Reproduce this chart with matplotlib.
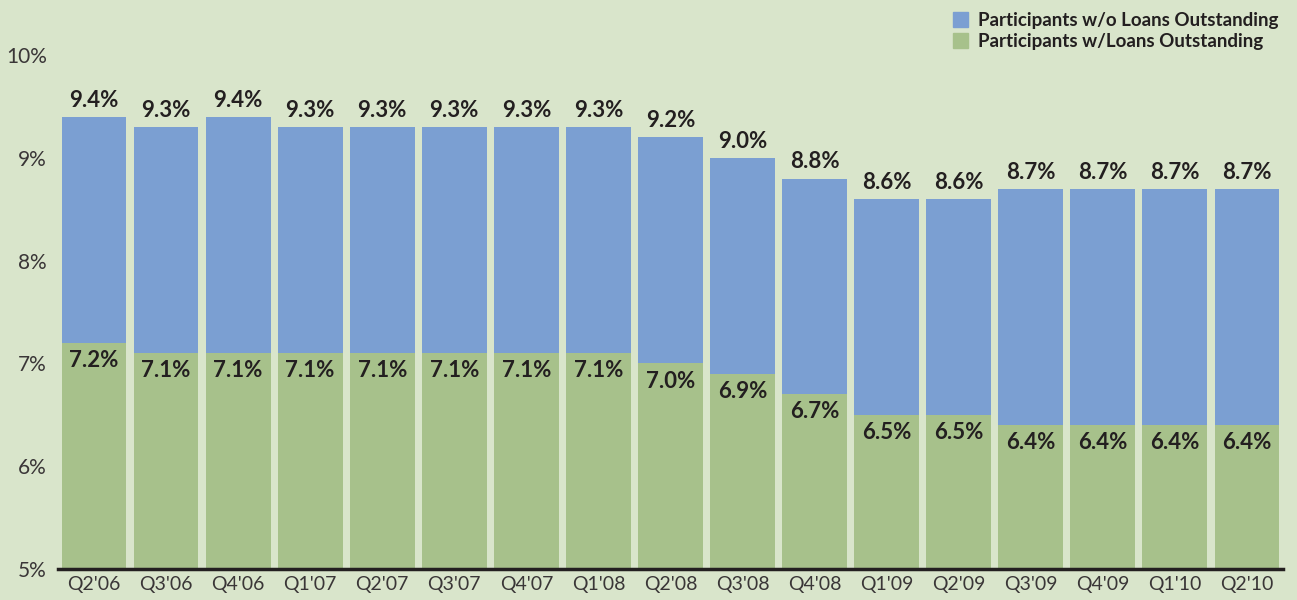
import matplotlib
matplotlib.use('Agg')
from matplotlib import pyplot as plt
from matplotlib.patches import Patch

quarters = ["Q2'06", "Q3'06", "Q4'06", "Q1'07", "Q2'07", "Q3'07", "Q4'07", "Q1'08", "Q2'08",
            "Q3'08", "Q4'08", "Q1'09", "Q2'09", "Q3'09", "Q4'09", "Q1'10", "Q2'10"]
total_pct = [9.4, 9.3, 9.4, 9.3, 9.3, 9.3, 9.3, 9.3, 9.2, 9.0, 8.8, 8.6, 8.6, 8.7, 8.7, 8.7, 8.7]
with_loans = [7.2, 7.1, 7.1, 7.1, 7.1, 7.1, 7.1, 7.1, 7.0, 6.9, 6.7, 6.5, 6.5, 6.4, 6.4, 6.4, 6.4]
ytick_vals = [5, 6, 7, 8, 9, 10]

bg = '#D9E5CB'
blue = '#7B9FD2'
green = '#A7C18B'
txt = '#231F20'

plt.rcParams['font.family'] = ['Lato', 'DejaVu Sans']

fig = plt.figure(figsize=(12.97, 6.0), dpi=100, facecolor=bg)
ax = fig.add_axes([0.0447, 0.0517, 0.9445, 0.8563])
ax.set_facecolor(bg)

x = list(range(len(quarters)))
base = 5
lower = [v - base for v in with_loans]
upper = [t - w for t, w in zip(total_pct, with_loans)]
ax.bar(x, lower, bottom=base, width=0.9, color=green, zorder=2)
ax.bar(x, upper, bottom=with_loans, width=0.9, color=blue, zorder=2)

for i in x:
    ax.text(i, total_pct[i] + 0.06, '%.1f%%' % total_pct[i], ha='center', va='bottom',
            fontsize=16, fontweight='bold', color=txt)
    ax.text(i, with_loans[i] - 0.07, '%.1f%%' % with_loans[i], ha='center', va='top',
            fontsize=16, fontweight='bold', color=txt)

ax.set_xlim(-0.5, 16.5)
ax.set_ylim(5, 10)
ax.set_xticks(x)
ax.set_xticklabels(quarters, fontsize=14, color='#3a3637')
ax.set_yticks(ytick_vals)
ax.set_yticklabels(['%d%%' % v for v in ytick_vals], fontsize=15, color='#3a3637')
ax.tick_params(axis='both', length=0, pad=5)
ax.tick_params(axis='y', pad=8)
for s in ['top', 'right', 'left']:
    ax.spines[s].set_visible(False)
ax.spines['bottom'].set_linewidth(2.5)
ax.spines['bottom'].set_color(txt)
ax.spines['bottom'].set_zorder(3)

handles = [Patch(color=blue, label='Participants w/o Loans Outstanding'),
           Patch(color=green, label='Participants w/Loans Outstanding')]
leg = fig.legend(handles=handles, loc='upper right', bbox_to_anchor=(0.995, 1.0),
                 frameon=False, prop={'size': 13.5, 'weight': 'bold'},
                 handlelength=0.85, handleheight=0.85, handletextpad=0.5,
                 labelspacing=0.2, borderaxespad=0.25)
for t in leg.get_texts():
    t.set_color(txt)

fig.savefig('out.png', dpi=100, facecolor=bg)
